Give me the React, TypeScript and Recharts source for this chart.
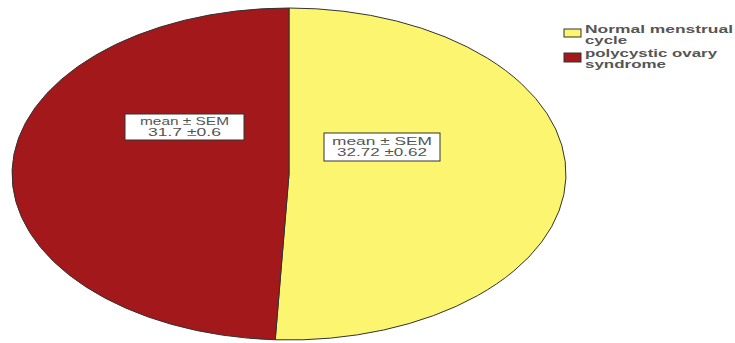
import React from 'react';
import { PieChart, Pie, Cell, Legend } from 'recharts';

const groups = ['Normal menstrual cycle', 'polycystic ovary syndrome'];
const means = [32.72, 31.7];
const sems = [0.62, 0.6];
const legendLines = [
  ['Normal menstrual', 'cycle'],
  ['polycystic ovary', 'syndrome'],
];
const colors = ['#FCF56F', '#A3181B'];

const data = groups.map((g, i) => ({ name: g, value: means[i], sem: sems[i] }));

const RX = 277;
const RY = 166;
const CX = 289;
const CY = 174;

// label box layout relative to pie centre
const LABEL_LAYOUT = [
  { dx: 93, dy: -27, w: 116, h: 28, l1: 100, l2: 90 },
  { dx: -104.5, dy: -47, w: 119, h: 26, l1: 89, l2: 73 },
];
const LEGEND_TEXT_LEN = [
  [148, 42],
  [132, 81],
];

const renderLabel = (props: any) => {
  const { cx, cy, index } = props;
  const L = LABEL_LAYOUT[index];
  const x = cx + L.dx;
  const y = cy + L.dy;
  const d = data[index];
  return (
    <g key={`lbl-${index}`}>
      <rect x={x - L.w / 2} y={y - L.h / 2} width={L.w} height={L.h} fill="#fff" stroke="#333" strokeWidth={1} />
      <text x={x} y={y - 2} textAnchor="middle" fontSize={10.5} fill="#555" fontFamily="Liberation Sans, Arial, sans-serif"
        textLength={L.l1} lengthAdjust="spacingAndGlyphs">mean ± SEM</text>
      <text x={x} y={y + 9} textAnchor="middle" fontSize={10.5} fill="#555" fontFamily="Liberation Sans, Arial, sans-serif"
        textLength={L.l2} lengthAdjust="spacingAndGlyphs">{`${d.value} ±${d.sem}`}</text>
    </g>
  );
};

const renderLegend = () => (
  <svg width={175} height={80} style={{ display: 'block' }}>
    {data.map((d, i) => {
      const top = i === 0 ? 29 : 53;
      const base1 = i === 0 ? 33 : 57;
      return (
        <g key={d.name}>
          <rect x={4} y={top} width={17} height={i === 0 ? 8 : 9} fill={colors[i]} stroke="#333" strokeWidth={1} />
          {legendLines[i].map((ln, j) => (
            <text key={ln} x={25} y={base1 + j * 10.5} fontSize={10.5} fontWeight="bold" fill="#555"
              fontFamily="Liberation Sans, Arial, sans-serif"
              textLength={LEGEND_TEXT_LEN[i][j]} lengthAdjust="spacingAndGlyphs">{ln}</text>
          ))}
        </g>
      );
    })}
  </svg>
);

export default function App() {
  return (
    <div style={{ width: 735, height: 343, position: 'relative', background: '#fff' }}>
      <style>{`
        body { margin: 0; }
        .recharts-pie-sector path {
          transform-box: view-box;
          transform-origin: ${CX}px ${CY}px;
          transform: scaleX(${RX / RY});
          vector-effect: non-scaling-stroke;
        }
      `}</style>
      <PieChart width={735} height={343} margin={{ top: 0, right: 0, bottom: 0, left: 0 }}>
        <Pie
          data={data}
          dataKey="value"
          nameKey="name"
          cx={CX}
          cy={CY}
          outerRadius={RY}
          startAngle={90}
          endAngle={-270}
          stroke="#333"
          strokeWidth={1}
          label={renderLabel}
          labelLine={false}
          isAnimationActive={false}
        >
          {data.map((d, i) => (
            <Cell key={d.name} fill={colors[i]} />
          ))}
        </Pie>
        <Legend
          layout="vertical"
          align="right"
          verticalAlign="top"
          content={renderLegend}
          wrapperStyle={{ position: 'absolute', left: 560, top: 0, width: 175, height: 80 }}
        />
      </PieChart>
    </div>
  );
}
